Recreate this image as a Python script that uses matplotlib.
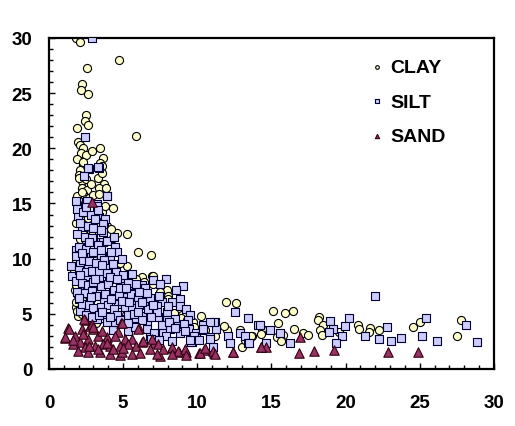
import matplotlib
matplotlib.use('Agg')
import matplotlib.pyplot as plt
from matplotlib.ticker import MultipleLocator

# ---- data ----
clay_x = [1.84, 2.09, 4.69, 2.56, 2.22, 2.13, 2.63, 2.47, 2.40, 2.63, 1.86, 5.90, 1.93, 2.09, 2.27,
          3.41, 2.13, 2.49, 3.64, 3.43, 3.57, 2.31, 2.09, 2.04, 2.20, 3.70, 3.35, 3.82, 2.20, 2.58,
          2.31, 1.87, 4.60, 5.23, 4.33, 6.02, 6.85, 5.23, 5.57, 6.24, 6.92, 1.75, 1.82, 1.93, 7.93,
          8.03, 10.24, 11.92, 12.64, 12.03, 13.00, 13.70, 9.72, 8.94, 7.03,
          1.9, 2.3, 2.0, 2.5, 2.8, 2.2, 2.7, 3.0, 3.4, 1.9, 2.4, 3.0, 3.6, 2.0, 2.6, 1.8, 2.3, 2.8,
          3.3, 2.1, 2.6, 1.9, 2.4, 3.0, 1.8, 2.2, 2.8, 1.7, 2.1, 2.4, 1.8, 1.9, 2.3, 1.8, 1.9, 2.2,
          2.6, 3.2, 3.6, 4.2, 4.7, 5.0, 4.5, 4.8, 5.4, 5.9, 6.4, 7.0, 7.5, 8.0, 8.4, 8.9, 9.3, 3.9,
          4.2, 3.3, 3.6, 2.9, 3.5, 4.0, 3.8, 4.3, 9.8, 10.5, 11.2, 11.8, 12.9, 13.2,
          15.10, 15.94, 16.45, 15.44, 14.39, 14.32, 13.65, 15.37, 15.78, 15.67, 16.52, 17.12, 17.46,
          18.20, 18.13, 18.47, 18.30, 18.43, 19.55, 20.83, 20.90, 21.62, 21.55, 22.22, 24.53, 25.03,
          27.79, 27.52]
clay_y = [30.0, 29.6, 28.0, 27.3, 25.8, 25.3, 24.9, 23.05, 22.45, 22.15, 21.8, 21.15, 20.55, 20.3, 20.0,
          20.05, 19.6, 19.4, 19.1, 18.7, 18.4, 18.5, 18.0, 17.6, 17.0, 16.8, 16.4, 16.4, 16.4, 16.25,
          15.9, 15.65, 12.3, 12.2, 11.85, 10.6, 10.36, 9.37, 8.4, 8.3, 8.4, 7.2, 5.6, 4.8, 7.2,
          6.65, 4.83, 6.1, 6.0, 3.56, 2.03, 3.02, 4.29, 4.9, 8.45,
          19.0, 18.8, 17.3, 17.2, 16.8, 16.0, 15.5, 15.8, 15.9, 15.0, 14.9, 14.5, 14.2, 14.0, 13.7,
          13.2, 12.6, 12.3, 12.9, 11.8, 11.4, 10.8, 10.3, 10.0, 9.7, 9.3, 9.2, 8.8, 8.0, 7.4, 7.6,
          6.8, 6.2, 6.1, 5.3, 5.0, 4.5, 4.2, 4.6, 4.4, 5.3, 6.2, 9.0, 9.6, 8.1, 8.2, 7.9, 7.7, 7.0,
          6.3, 5.1, 4.6, 4.4, 13.0, 12.7, 17.3, 17.8, 19.8, 11.0, 9.3, 14.8, 14.6, 3.8, 3.5, 3.0,
          3.9, 3.5, 2.6,
          5.29, 5.05, 5.23, 4.14, 3.63, 3.17, 3.02, 2.87, 3.08, 2.57, 3.63, 3.26, 3.11,
          4.74, 4.47, 4.02, 3.56, 3.11, 3.32, 4.02, 3.63, 3.69, 3.38, 3.56, 3.78, 4.29,
          4.47, 3.02]

silt_x = [2.87, 2.42, 2.67, 3.35, 2.34, 3.88,
          1.82, 2.49, 3.21, 3.93, 1.97, 3.35, 2.20, 3.70, 3.66, 2.49, 3.16, 3.61, 4.42, 1.82, 2.81,
          4.56, 2.09, 1.46, 2.65, 3.88, 1.53, 2.58, 3.39, 4.04, 4.78, 5.68, 6.24, 7.03, 7.86, 7.47,
          9.04, 8.53, 6.62, 5.79, 5.00, 4.33, 3.43, 2.54, 2.02, 2.76, 3.70, 4.67, 5.23, 5.90, 6.40,
          7.09, 7.65, 8.26, 8.82, 7.25, 7.93, 8.82, 9.27, 9.50, 9.38, 8.48, 7.93, 7.36, 6.58, 6.24,
          5.68, 5.05, 4.44, 3.88, 3.21, 2.65, 2.09, 5.30, 6.80, 7.70, 8.15, 8.82, 9.45, 9.94, 9.67,
          10.40, 10.85, 10.35, 11.18, 11.25, 11.07, 12.07, 12.19, 12.53, 13.42, 12.86, 13.20, 13.42,
          14.10, 14.20, 13.50, 14.93, 15.56, 14.60, 16.23, 22.00, 18.92, 20.20, 19.93, 19.15, 18.85,
          19.78, 19.33, 21.28, 22.24, 22.80, 23.03, 23.75, 25.43, 25.16, 26.15, 28.13, 28.87,
          2.65, 3.32, 2.54, 3.21, 3.77, 3.66, 2.98, 11.13, 10.84, 10.39, 10.84, 9.60,
          1.9, 2.3, 2.8, 3.3, 2.1, 2.6, 3.0, 3.5, 1.9, 2.4, 2.9, 3.3, 3.9, 2.0, 2.5, 3.0, 3.5, 4.1,
          1.8, 2.3, 2.7, 3.2, 3.7, 4.3, 2.0, 2.5, 2.9, 3.4, 3.9, 4.5, 5.0, 1.8, 2.2, 2.6, 3.0, 3.5,
          4.0, 4.4, 5.3, 5.9, 6.5, 1.9, 2.4, 2.9, 3.2, 3.8, 4.7, 5.5, 6.0, 6.8, 7.4, 2.2, 2.7, 3.0,
          3.5, 4.0, 4.4, 5.1, 5.6, 6.1, 6.7, 7.3, 8.0, 2.5, 2.9, 3.4, 3.9, 4.6, 5.3, 5.8, 6.3, 6.9,
          7.6, 8.1, 8.7, 9.1, 4.3, 5.8, 6.6, 7.1, 7.9, 8.5, 9.2, 9.8, 10.1, 6.9, 7.4, 8.3, 9.5, 3.5,
          2.2, 4.8, 4.2, 3.6, 5.7, 6.3, 7.0, 2.8, 2.0, 3.1, 4.1, 2.7, 3.1, 2.5, 2.1,
          4.6, 5.2, 5.6, 6.1, 6.6, 4.9, 5.4, 6.0, 4.1, 4.8, 5.3, 3.6, 4.2, 4.9, 4.4]
silt_y = [30.0, 21.0, 18.15, 18.2, 17.5, 15.65,
          15.2, 15.1, 14.96, 15.65, 13.85, 13.75, 12.9, 13.3, 12.4, 11.8, 11.5, 11.5, 11.1, 10.8, 10.5,
          10.6, 9.6, 9.37, 9.16, 9.3, 8.46, 8.4, 8.3, 8.16, 7.85, 7.4, 7.6, 8.1, 8.16, 7.7,
          7.55, 7.2, 6.86, 6.9, 7.5, 6.95, 6.65, 6.95, 6.35, 6.35, 6.1, 5.9, 6.5, 6.2, 5.9,
          6.35, 6.05, 6.05, 6.35, 5.7, 5.15, 5.7, 5.45, 4.9, 4.4, 4.5, 4.4, 4.7, 4.2, 4.8,
          5.2, 4.5, 4.1, 4.8, 4.5, 5.45, 5.3, 3.4, 3.0, 3.25, 3.6, 3.25, 3.6, 3.25, 2.48,
          3.55, 2.87, 4.0, 4.3, 3.6, 1.97, 3.0, 2.35, 5.2, 4.6, 3.3, 3.0, 2.4,
          4.0, 4.0, 2.4, 3.56, 3.23, 2.36, 2.4, 6.65, 4.38, 4.6, 3.93, 3.63, 3.38,
          2.96, 2.33, 3.02, 2.72, 3.83, 2.57, 2.84, 4.6, 3.02, 2.57, 4.02, 2.48,
          18.2, 18.3, 15.2, 14.8, 13.6, 13.15, 11.9, 4.29, 4.23, 3.63, 2.72, 2.48,
          14.5, 14.2, 14.0, 14.4, 13.2, 13.0, 12.8, 12.6, 12.2, 12.0, 11.9, 11.2, 11.6, 11.1, 10.9,
          10.6, 10.3, 10.2, 10.2, 9.9, 9.8, 9.6, 9.9, 9.5, 9.0, 8.8, 8.9, 8.9, 8.7, 8.8, 8.5, 8.0,
          7.8, 7.6, 7.9, 7.5, 7.7, 7.2, 7.8, 7.7, 7.3, 7.0, 6.9, 7.1, 6.6, 6.8, 6.7, 6.8, 6.5, 6.4,
          6.6, 5.9, 5.8, 5.5, 5.6, 5.8, 5.4, 5.6, 5.5, 5.8, 5.4, 5.2, 5.7, 4.9, 4.7, 4.9, 4.3, 4.9,
          4.9, 4.6, 4.4, 4.7, 4.0, 4.3, 3.9, 4.1, 3.5, 3.8, 3.6, 3.3, 3.0, 3.7, 3.4, 3.0, 2.6, 2.7,
          2.6, 2.5, 2.6, 10.8, 10.5, 7.3, 6.3, 5.2, 5.0, 6.1, 5.8, 6.5, 6.4, 8.2, 8.3, 11.5, 13.6,
          14.7, 8.5,
          8.2, 7.3, 8.6, 7.0, 6.9, 6.2, 6.1, 5.2, 4.7, 4.4, 4.2, 9.4, 10.6, 10.0, 12.0]

sand_x = [14.28, 14.61, 16.95, 16.86, 17.87, 19.21, 22.85, 24.87,
          1.30, 1.08, 2.42, 2.87, 4.83, 6.08, 7.07, 8.30, 8.75, 9.22, 10.12, 10.44, 11.11, 12.41,
          14.30, 7.47, 4.78,
          1.35, 2.38, 2.76, 2.20, 2.98, 4.90, 4.67, 6.02, 1.08, 1.75, 2.09, 2.65, 3.32, 3.88, 4.44,
          5.12, 5.57, 1.64, 2.42, 3.10, 3.66, 4.11, 4.78, 5.34, 5.90, 6.24, 1.97, 2.65, 3.43, 4.11,
          4.90, 5.57, 6.13,
          6.35, 6.92, 7.36, 6.80, 7.70, 7.25, 8.26, 8.71, 9.16, 8.30, 9.27, 10.17, 10.50, 11.07,
          11.18, 12.41,
          2.9, 3.6, 2.3, 3.9, 1.6, 2.7, 3.3, 4.3, 5.0, 3.0]
sand_y = [1.97, 1.97, 2.93, 1.42, 1.6, 1.75, 1.51, 1.51,
          3.69, 2.78, 4.47, 15.1, 4.17, 3.72, 2.36, 1.87, 1.57, 1.51, 1.45, 1.75, 1.45, 1.57,
          1.97, 1.21, 1.27,
          3.63, 4.53, 3.93, 3.63, 3.63, 4.17, 3.32, 3.63, 2.87, 3.02, 2.41, 2.72, 2.96, 2.87, 2.96,
          2.72, 2.72, 2.27, 1.97, 2.12, 2.27, 2.12, 2.12, 2.27, 2.12, 2.41, 1.66, 1.51, 1.51, 1.36,
          1.51, 1.36, 1.45,
          2.57, 2.72, 2.27, 1.81, 1.81, 1.36, 1.97, 1.66, 1.81, 1.36, 1.27, 1.45, 1.87, 1.66,
          1.36, 1.51,
          4.1, 3.4, 3.2, 2.4, 2.6, 2.1, 1.8, 1.8, 1.9, 3.8]

plt.rcParams['font.family'] = ['Liberation Sans', 'DejaVu Sans']
plt.rcParams['font.weight'] = 'bold'

fig = plt.figure(figsize=(5.15, 4.27), dpi=100)
ax = fig.add_axes([0.0951, 0.1335, 0.8641, 0.7752])

ax.scatter(clay_x, clay_y, s=34, marker='o', facecolor='#FFFFCC', edgecolor='black',
           linewidth=0.8, label='CLAY', zorder=2)
ax.scatter(silt_x, silt_y, s=40, marker='s', facecolor='#CCCCFF', edgecolor='#000033',
           linewidth=0.8, label='SILT', zorder=3)
ax.scatter(sand_x, sand_y, s=46, marker='^', facecolor='#993366', edgecolor='#330011',
           linewidth=0.8, label='SAND', zorder=4)

ax.set_xlim(0, 30)
ax.set_ylim(0, 30)
ax.xaxis.set_major_locator(MultipleLocator(5))
ax.xaxis.set_minor_locator(MultipleLocator(1))
ax.yaxis.set_major_locator(MultipleLocator(5))
ax.yaxis.set_minor_locator(MultipleLocator(1))
ax.tick_params(which='major', direction='in', length=4.5, width=1, labelsize=13.5)
ax.tick_params(which='minor', direction='in', length=3, width=1)
ax.tick_params(axis='x', which='major', pad=18)
ax.tick_params(axis='y', which='major', pad=12)
for sp in ax.spines.values():
    sp.set_linewidth(1.6)

leg = ax.legend(loc='upper left', bbox_to_anchor=(0.675, 0.99), frameon=False, fontsize=14,
                markerscale=0.45, handletextpad=0.2, labelspacing=0.85, handlelength=1.0)

fig.savefig('out.png', dpi=100)
